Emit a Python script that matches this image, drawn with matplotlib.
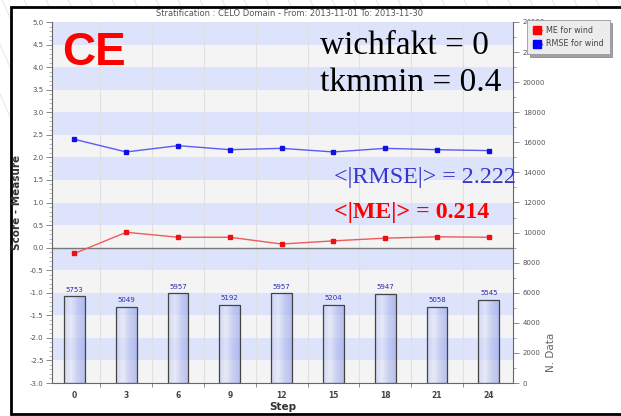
import matplotlib
matplotlib.use("Agg")
import matplotlib.pyplot as plt
import numpy as np
from matplotlib.patches import Rectangle
from matplotlib.lines import Line2D

# ---- data ----
steps = [0, 3, 6, 9, 12, 15, 18, 21, 24]
me_wind = [-0.13, 0.34, 0.23, 0.23, 0.08, 0.15, 0.21, 0.24, 0.23]
rmse_wind = [2.40, 2.12, 2.26, 2.17, 2.20, 2.12, 2.20, 2.17, 2.15]
n_data = [5753, 5049, 5957, 5192, 5957, 5204, 5947, 5058, 5545]
left_ticks = [-3.0, -2.5, -2.0, -1.5, -1.0, -0.5, 0.0, 0.5, 1.0, 1.5, 2.0, 2.5, 3.0, 3.5, 4.0, 4.5, 5.0]
right_ticks = [0, 2000, 4000, 6000, 8000, 10000, 12000, 14000, 16000, 18000, 20000, 22000, 24000]
title = "Stratification : CELO Domain - From: 2013-11-01 To: 2013-11-30"

W, H = 621, 416
fig = plt.figure(figsize=(W / 100, H / 100), dpi=100)
fig.patch.set_facecolor("white")

def fx(px):
    return px / W

def fy(py):
    return 1 - py / H

# faint diagonal stripes of the slide background (margins only)
for k in range(-10, 40):
    x0 = k * 22
    fig.add_artist(Line2D([fx(x0), fx(x0 + 60)], [fy(-5), fy(130)],
                          color="#e8e8e8", lw=0.8, zorder=-5))
# white chart panel with black frame
fig.add_artist(Rectangle((fx(11), fy(414)), fx(621 - 11 + 5), fy(7) - fy(414),
                         facecolor="white", edgecolor="black", lw=2.0, zorder=-4))

ax = fig.add_axes([fx(52), fy(383), fx(513 - 52), fy(22) - fy(383)])
ax.set_xlim(-1.3, 25.4)
ax.set_ylim(-3.0, 5.0)
ax.set_facecolor("#f4f4f4")

# alternating bands
for i, lo in enumerate(np.arange(-3.0, 5.0, 0.5)):
    col = "#dde3fa" if i % 2 == 1 else "#f4f4f4"
    ax.axhspan(lo, lo + 0.5, color=col, lw=0, zorder=0)

# vertical grid between steps
for s in steps:
    ax.axvline(s + 1.5, color="#e0e0e0", lw=0.8, zorder=0.5)
ax.axhline(0.0, color="#777777", lw=1.0, zorder=1)

ax.plot(steps, rmse_wind, color="#5a5af5", lw=1.0, marker="s", ms=3.5,
        mfc="#1010e0", mec="#1010e0", zorder=5)
ax.plot(steps, me_wind, color="#f05a5a", lw=1.0, marker="s", ms=3.5,
        mfc="#ee1010", mec="#ee1010", zorder=5)

ax.set_yticks(left_ticks)
ax.set_yticklabels([f"{v:.1f}" for v in left_ticks], fontsize=5, color="#555555")
ax.set_yticks(np.arange(-3.0, 5.001, 0.1), minor=True)
ax.tick_params(axis="y", which="major", length=4, width=0.6, color="#777777", pad=2)
ax.tick_params(axis="y", which="minor", length=2, width=0.4, color="#888888")
ax.set_xticks(steps)
ax.set_xticklabels([str(s) for s in steps], fontsize=5.5, color="#444444", fontweight="bold")
ax.set_xticks([s + 1.5 for s in steps[:-1]], minor=True)
ax.tick_params(axis="x", which="major", length=0, pad=6)
ax.tick_params(axis="x", which="minor", length=3, width=0.6, color="#777777")
for sp in ["top", "right"]:
    ax.spines[sp].set_visible(False)
ax.spines["left"].set_color("#666666")
ax.spines["bottom"].set_color("#666666")
ax.set_ylabel("Score - Measure", fontsize=7.5, fontweight="bold", color="#333333", labelpad=6)
ax.set_xlabel("Step", fontsize=7.5, fontweight="bold", color="#333333", labelpad=1)

# bars on right axis
ax2 = ax.twinx()
grad = np.linspace(0, 1, 64).reshape(1, -1)
cmap = matplotlib.colors.LinearSegmentedColormap.from_list(
    "bar", ["#c0c8f2", "#dfe3f8", "#aeb8ee", "#929fe8"])
bw = 1.2
bars = ax2.bar(steps, n_data, width=bw, facecolor="none", edgecolor="#444444",
               lw=0.9, zorder=3)
for b, s, n in zip(bars, steps, n_data):
    im = ax2.imshow(grad, cmap=cmap, aspect="auto", alpha=0.6,
                    extent=[s - bw / 2, s + bw / 2, 0, n], zorder=2)
    im.set_clip_path(b)
    ax2.text(s, n + 250, str(n), ha="center", va="bottom", fontsize=5,
             color="#2a2ab0")
ax2.set_xlim(-1.3, 25.4)
ax2.set_ylim(0, 24000)
ax2.set_yticks(right_ticks)
ax2.set_yticklabels([str(v) for v in right_ticks], fontsize=5, color="#555555")
ax2.set_yticks(np.arange(0, 24001, 1000), minor=True)
ax2.tick_params(axis="y", which="major", length=4, width=0.6, color="#777777", pad=3)
ax2.tick_params(axis="y", which="minor", length=2, width=0.5, color="#888888")
for sp in ["top", "left", "bottom"]:
    ax2.spines[sp].set_visible(False)
ax2.spines["right"].set_color("#666666")
ax2.set_ylabel("N. Data", fontsize=7.5, color="#666666")
ax2.yaxis.set_label_coords(1.072, 0.085)

# title
fig.text(fx(290), fy(14), title, fontsize=6, color="#555555", ha="center", va="center")

# annotations
fig.text(fx(62), fy(65), "CE", fontsize=33, fontweight="bold", color="#ff0000",
         family="Liberation Sans", ha="left", va="baseline")
fig.text(fx(320), fy(54), "wichfakt = 0", fontsize=24, color="black",
         family="Liberation Serif", ha="left", va="baseline")
fig.text(fx(320), fy(91), "tkmmin = 0.4", fontsize=24, color="black",
         family="Liberation Serif", ha="left", va="baseline")
fig.text(fx(334), fy(183), "<|RMSE|> = 2.222", fontsize=17.3, color="#3535cc",
         family="Liberation Serif", ha="left", va="baseline")
fig.text(fx(334), fy(218), "<|ME|> = 0.214", fontsize=17.2, color="#ff0000",
         fontweight="bold", family="Liberation Serif", ha="left", va="baseline")

# legend box
h1 = Line2D([], [], color="#f05a5a", marker="s", ms=5.5, mfc="#ff0000", mec="#ff0000", lw=1)
h2 = Line2D([], [], color="#5a5af5", marker="s", ms=5.5, mfc="#0000ff", mec="#0000ff", lw=1)
leg = fig.legend([h1, h2], ["ME for wind", "RMSE for wind"],
                 loc="upper left", bbox_to_anchor=(fx(527), fy(20)),
                 fontsize=5.8, frameon=True, fancybox=False, shadow=True,
                 handlelength=1.1, handletextpad=0.6, borderpad=0.7,
                 labelspacing=0.6, borderaxespad=0)
leg.get_frame().set_facecolor("#ececec")
leg.get_frame().set_edgecolor("#999999")
leg.get_frame().set_linewidth(0.6)
for t in leg.get_texts():
    t.set_color("#444444")
leg.set_zorder(20)

fig.savefig("out.png", dpi=100)
